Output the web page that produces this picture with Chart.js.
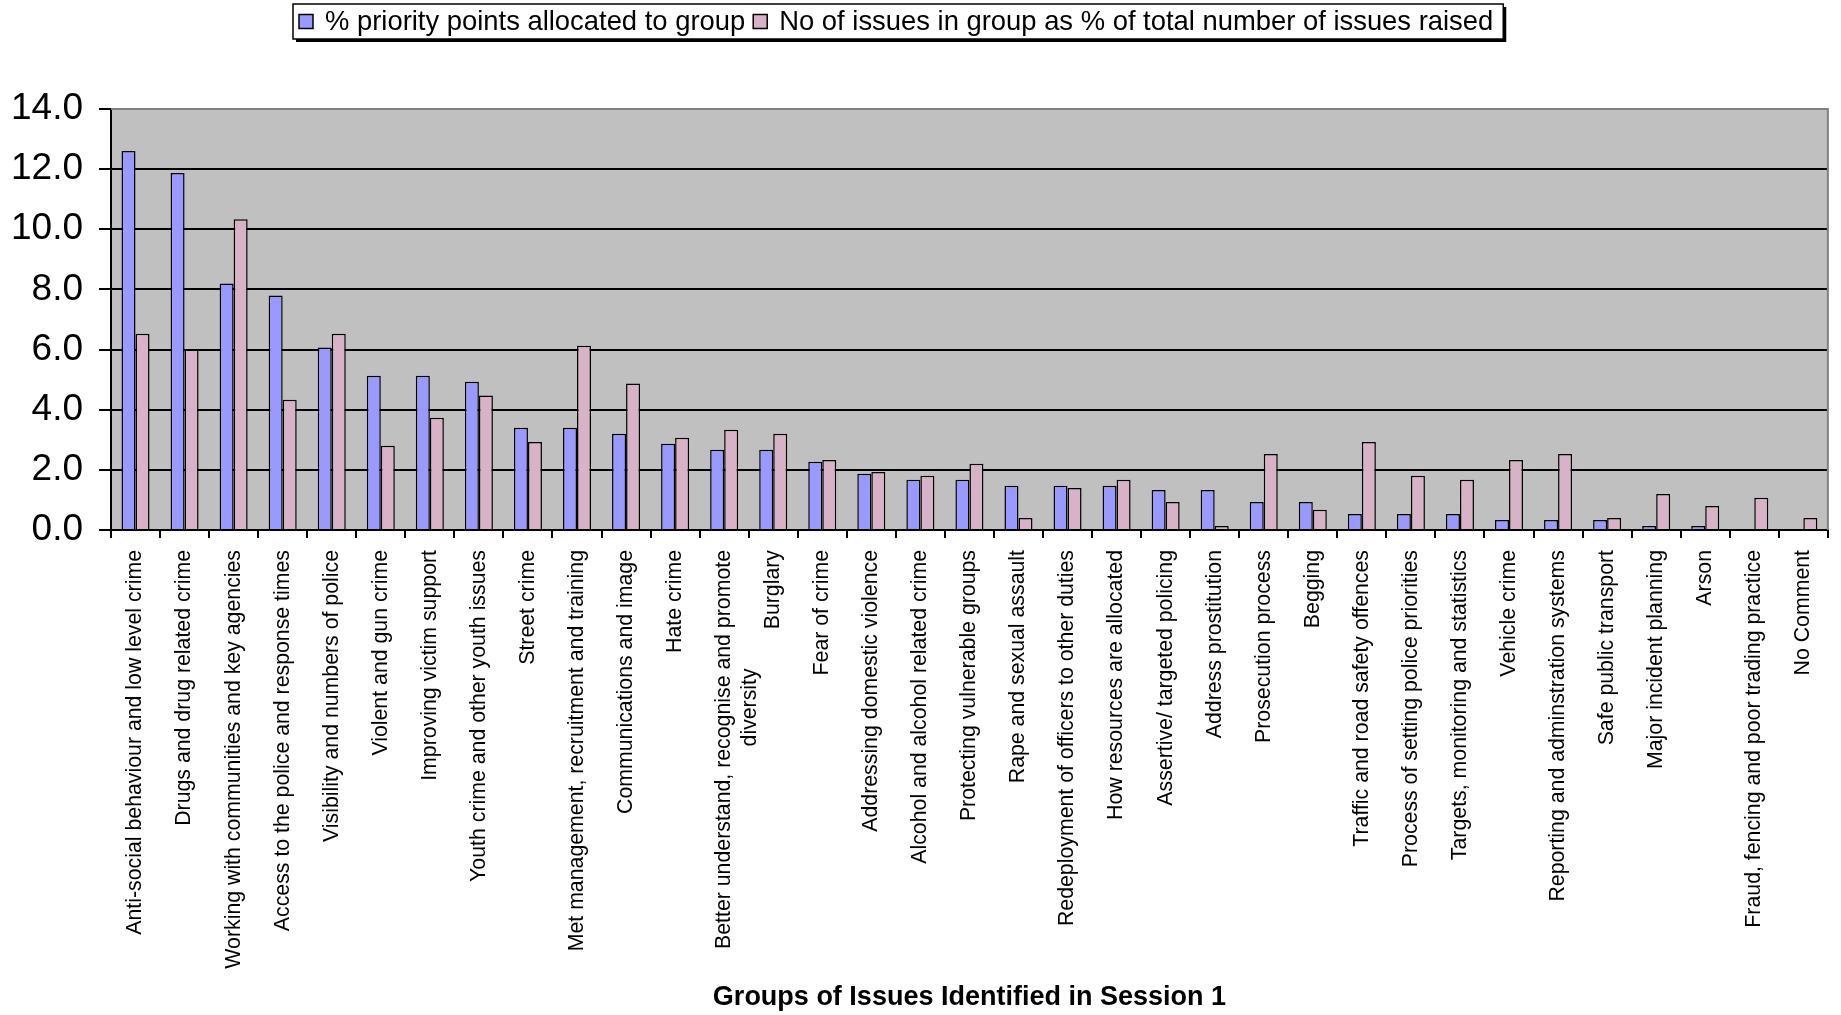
<!DOCTYPE html>
<html>
<head>
<meta charset="utf-8">
<script src="https://cdn.jsdelivr.net/npm/chart.js@4.4.0/dist/chart.umd.min.js"></script>
<style>
  html, body { margin: 0; padding: 0; background: #fff; }
  #wrap { width: 1841px; height: 1015px; }
</style>
</head>
<body>
<div id="wrap"><canvas id="chart" width="1841" height="1015"></canvas></div>
<script>
const categories = [
  'Anti-social behaviour and low level crime',
  'Drugs and drug related crime',
  'Working with communities and key agencies',
  'Access to the police and response times',
  'Visibility and numbers of police',
  'Violent and gun crime',
  'Improving victim support',
  'Youth crime and other youth issues',
  'Street crime',
  'Met management, recruitment and training',
  'Communications and image',
  'Hate crime',
  // second line padded so it sits centred under the first, as in the original
  ['Better understand, recognise and promote', 'diversity' + ' '.repeat(20)],
  'Burglary',
  'Fear of crime',
  'Addressing domestic violence',
  'Alcohol and alcohol related crime',
  'Protecting vulnerable groups',
  'Rape and sexual assault',
  'Redeployment of officers to other duties',
  'How resources are allocated',
  'Assertive/ targeted policing',
  'Address prostitution',
  'Prosecution process',
  'Begging',
  'Traffic and road safety offences',
  'Process of setting police priorities',
  'Targets, monitoring and statistics',
  'Vehicle crime',
  'Reporting and adminstration systems',
  'Safe public transport',
  'Major incident planning',
  'Arson',
  'Fraud, fencing and poor trading practice',
  'No Comment'
];

const priorityPoints = [12.6, 11.87, 8.2, 7.8, 6.07, 5.13, 5.13, 4.93, 3.4, 3.4, 3.2, 2.87, 2.67, 2.67, 2.27, 1.87, 1.67, 1.67, 1.47, 1.47, 1.47, 1.33, 1.33, 0.93, 0.93, 0.53, 0.53, 0.53, 0.33, 0.33, 0.33, 0.13, 0.13, 0, 0];
const issueShare = [6.53, 6.0, 10.33, 4.33, 6.53, 2.8, 3.73, 4.47, 2.93, 6.13, 4.87, 3.07, 3.33, 3.2, 2.33, 1.93, 1.8, 2.2, 0.4, 1.4, 1.67, 0.93, 0.13, 2.53, 0.67, 2.93, 1.8, 1.67, 2.33, 2.53, 0.4, 1.2, 0.8, 1.07, 0.4];

const seriesLabels = ['% priority points allocated to group', 'No of issues in group as % of total number of issues raised'];
const xTitle = 'Groups of Issues Identified in Session 1';
const Y_MIN = 0, Y_MAX = 14, Y_STEP = 2;

const FONT = "'Liberation Sans', Arial, sans-serif";

// grey plot background
const plotBg = {
  id: 'plotBg',
  beforeDraw: function (chart) {
    const a = chart.chartArea, ctx = chart.ctx;
    ctx.save();
    ctx.fillStyle = '#c0c0c0';
    ctx.fillRect(a.left, a.top, a.right - a.left, a.bottom - a.top);
    ctx.restore();
  }
};

// grey frame on top and right of plot
const plotFrame = {
  id: 'plotFrame',
  afterDraw: function (chart) {
    const a = chart.chartArea, ctx = chart.ctx;
    ctx.save();
    ctx.strokeStyle = '#808080';
    ctx.lineWidth = 2;
    ctx.beginPath();
    ctx.moveTo(a.left, a.top);
    ctx.lineTo(a.right, a.top);
    ctx.lineTo(a.right, a.bottom);
    ctx.stroke();
    ctx.restore();
  }
};

// boxed legend like the original
const boxLegend = {
  id: 'boxLegend',
  afterDraw: function (chart) {
    const ctx = chart.ctx;
    const x0 = 293, y0 = 4, h = 35;
    ctx.save();
    ctx.font = '27.4px ' + FONT;
    ctx.textBaseline = 'middle';
    let x = x0 + 6;
    const items = chart.data.datasets.map(function (ds) {
      const w = ctx.measureText(ds.label).width;
      const it = { ds: ds, x: x, w: w };
      x += 14 + 12 + w + 8;
      return it;
    });
    const w = x - x0 + 2;
    ctx.fillStyle = '#000';
    ctx.fillRect(x0 + 3, y0 + 3, w, h);
    ctx.fillStyle = '#fff';
    ctx.fillRect(x0, y0, w, h);
    ctx.strokeStyle = '#000';
    ctx.lineWidth = 1.5;
    ctx.strokeRect(x0, y0, w, h);
    items.forEach(function (it) {
      const cy = y0 + h / 2;
      ctx.fillStyle = it.ds.backgroundColor;
      ctx.fillRect(it.x, cy - 7, 14, 14);
      ctx.strokeStyle = '#000';
      ctx.lineWidth = 1.5;
      ctx.strokeRect(it.x, cy - 7, 14, 14);
      ctx.fillStyle = '#000';
      ctx.fillText(it.ds.label, it.x + 14 + 12, cy + 1);
    });
    ctx.restore();
  }
};

const chart = new Chart(document.getElementById('chart').getContext('2d'), {
  type: 'bar',
  data: {
    labels: categories,
    datasets: [
      { label: seriesLabels[0], data: priorityPoints, backgroundColor: '#9999ff', borderColor: '#000', borderWidth: 1.5, categoryPercentage: 2 / 3.5, barPercentage: 1 },
      { label: seriesLabels[1], data: issueShare, backgroundColor: '#d8b3c8', borderColor: '#000', borderWidth: 1.5, categoryPercentage: 2 / 3.5, barPercentage: 1 }
    ]
  },
  options: {
    responsive: false,
    animation: false,
    devicePixelRatio: 1,
    layout: { padding: { top: 109, right: 8, left: 0, bottom: 0 } },
    plugins: {
      legend: { display: false },
      tooltip: { enabled: false }
    },
    scales: {
      x: {
        afterFit: function (s) { s.height = 485; },
        grid: { drawOnChartArea: false, drawTicks: true, tickLength: 8, color: '#000', lineWidth: 2, offset: true },
        border: { color: '#000', width: 2 },
        ticks: {
          autoSkip: false, maxRotation: 90, minRotation: 90, padding: 12,
          color: '#000', font: { family: FONT, size: 21.3 }
        },
        title: {
          display: true, text: xTitle, color: '#000',
          font: { family: FONT, size: 27, weight: 'bold' },
          padding: { top: 0, bottom: 1 }
        }
      },
      y: {
        min: Y_MIN, max: Y_MAX,
        afterFit: function (s) { s.width = 111; },
        grid: {
          color: function (c) { return c.tick && c.tick.value === Y_MAX ? 'rgba(0,0,0,0)' : '#000'; },
          lineWidth: 2, tickLength: 12, drawTicks: true,
          tickColor: '#000'
        },
        border: { color: '#000', width: 2 },
        ticks: {
          stepSize: Y_STEP, padding: 16, color: '#000',
          font: { family: FONT, size: 37 },
          callback: function (v) { return v.toFixed(1); }
        }
      }
    }
  },
  plugins: [plotBg, plotFrame, boxLegend]
});
</script>
</body>
</html>
